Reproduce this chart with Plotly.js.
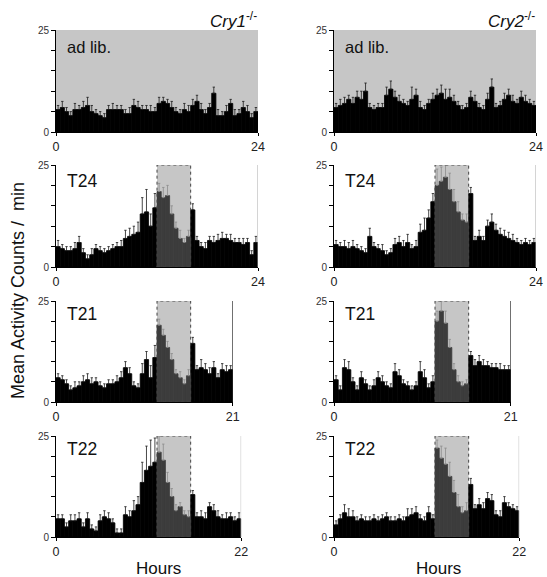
<!DOCTYPE html>
<html><head><meta charset="utf-8">
<script src="https://cdn.plot.ly/plotly-3.0.1.min.js"></script>
<style>html,body{margin:0;padding:0;background:#fff}#chart{width:547px;height:577px}</style>
</head><body><div id="chart"></div>
<script>
// ---- data (mean activity counts / min, 30-min bins) ----
const binHours = 0.5;
const darkStart = 12, darkEnd = 16;
const yLabelVals = [0, 25];
const yMinorVals = [5, 10, 15, 20];
const genotypeLabels = ['Cry1', 'Cry2'];
const conditionLabels = ['ad lib.', 'T24', 'T21', 'T22'];
const periods = [24, 24, 21, 22];

const cry1AdLib = [5.5,6,5,4,5.5,5.5,6,6.5, 5,4.5,4,3.5,5.5,5.5,5.5,5.5, 4.5,4.5,6.5,6,5.5,5.5,5,5,
                   7,7.5,7,6,5,4.5,5.5,5, 6.5,7.5,5.5,4.5,6,9.5,4,4, 5,7,4,4.5,6,5,3.5,5];
const cry1AdLibErr = [1,1.5,1,1,1.5,1,1.5,2, 1.5,1,1,1,1,1.5,1,1, 1,1.5,1.5,1.5,1,1,1.5,1,
                      1.5,1,1,1.5,1,1,1.5,1.5, 1.5,1.5,1.5,1,1,1.5,1.5,1, 1.5,1,1.5,1,1.5,1.5,1,1];
const cry2AdLib = [6,6.5,7,8,7,8.5,8,10, 6,5.5,6,6,9,10.5,8.5,7.5, 7,6.5,8,9,6,5.5,7,8,
                   9,9.5,8,8.5,7.5,6.5,5.5,6, 8.5,7.5,6,5.5,8,11,6,6.5, 8,9,7.5,7,8.5,7.5,7,6.5];
const cry2AdLibErr = [1,1.5,1.5,1,1.5,1.5,2,2, 1,1,1,1,2,2,1.5,1.5, 1,1,3,1.5,1.5,1,1,1.5,
                      1.5,2,2.5,2,1.5,1,1,1, 1.5,1.5,1,1,1.5,2,1,1, 1.5,1.5,1.5,1,1.5,1.5,1,1];

const cry1T24 = [5,4.5,4,4,4.5,6,3.5,2, 3,4.5,4,3.5,4,4.5,5,5, 7,7.5,8,8.5,13,13.5,10,14.5,
                 18.5,17,17.5,13,9.5,7,6,7.5, 14,6.5,5,4.5,6.5,6,6.5,7, 7,6.5,6,6,5.5,6,3,6];
const cry1T24Err = [1.5,1,1,1,1.5,1.5,1,1, 1.5,1,1,1,1,1,1,1.5, 2,2,2,2.5,4,5.5,3,3.5,
                    2,2.5,2.5,2,1.5,2,1,1.5, 1.5,1,1,1.5,1,1.5,1.5,1.5, 1,1.5,1,1,1.5,1,1,1.5];
const cry2T24 = [5.5,5,5,4.5,5,4.5,4,3.5, 7.5,5,4.5,4,3,3.5,5.5,6, 5,6,4.5,5,8.5,9,12,16,
                 20,21,22,19,16,13.5,11.5,11, 18,6.5,7.5,6.5,10,11,9,8, 7.5,7,6.5,6,5.5,6,5.5,6];
const cry2T24Err = [1,1,1.5,1.5,1.5,1,1,1, 2,1,1,1.5,1,1,1.5,1.5, 1.5,2,1,1.5,2,3,2,2,
                    4,3.5,3,4,3,2.5,1.5,2, 1.5,1,1.5,1,1.5,2,1.5,1.5, 1.5,1.5,1.5,1,1,1,1,1];

const cry1T21 = [6,5.5,4.5,3,3.5,4,5,5.5, 4.5,5,4,3.5,4.5,4.5,5,6, 8.5,7,4,3.5,7,10.5,6,11,
                 19,16.5,13.5,10.5,7,6,4.5,6.5, 14.5,8,8.5,8,7,8.5,6,8, 7.5,8];
const cry1T21Err = [1,1,1,1,1.5,1,1.5,1.5, 1.5,1,1,1,1,1,1.5,1.5, 1.5,1.5,1,1,2.5,2,3,3,
                    1.5,1.5,1.5,1.5,1,1.5,1,1.5, 1.5,1,2,1.5,1.5,1.5,1,1.5, 1.5,1];
const cry2T21 = [5.5,3,8.5,8,5,3,6,4.5, 3,4,6,5,4,3.5,7.5,6.5, 4.5,4,3,4,7.5,6,3.5,5,
                 20,22.5,19.5,13.5,8,5,4,4.5, 11.5,9,10,9,9,8.5,8.5,8, 8,8];
const cry2T21Err = [1,1,2,2,1,1,1.5,1, 1,1.5,1.5,1.5,1,1,2,1.5, 1,1,1,1,2.5,2,1,1.5,
                    2.5,2.5,3,2,1.5,1.5,1,1, 1,1.5,1.5,1.5,1,1,1,1.5, 1,1];

const cry1T22 = [4.5,4.5,2.5,4,4,4.5,2.5,4.5, 2,1.5,4,5,4.5,3.5,1,1, 5.5,5,6.5,8,13.5,16.5,17.5,18.5,
                 21,19,13.5,10,6.5,7.5,5.5,5, 10.5,5,5,4.5,7.5,6.5,5,4.5, 4.5,5,4,4.5];
const cry1T22Err = [1,1,1,1.5,1.5,1.5,1,1.5, 1,1,1.5,1.5,1.5,1,1,1, 2,1.5,2.5,2,5,6,6.5,6,
                    4,4,2.5,2,1.5,1,1,1.5, 1,1,1.5,1.5,1,1.5,1.5,1, 1.5,1,1,1.5];
const cry2T22 = [3,4.5,6,5,5,4,4.5,4, 4,4.5,4,4.5,5,4,4,4.5, 4,5,5.5,6,4.5,4,6,4.5,
                 22,19.5,18,15,11,7.5,6,6.5, 13,7,8,7,9.5,9,5.5,5, 8.5,7.5,7,6.5];
const cry2T22Err = [1,1,2,2,1.5,1,1,1, 1,1,1,1,1,1,1,1, 1,2,1.5,1.5,1,1,1.5,1,
                    2,3,4,3.5,3,3,1.5,2, 1.5,1,1.5,1.5,1.5,1.5,1,1.5, 1.5,1,1,1];

const seriesValues = [[cry1AdLib, cry2AdLib], [cry1T24, cry2T24], [cry1T21, cry2T21], [cry1T22, cry2T22]];
const seriesErrors = [[cry1AdLibErr, cry2AdLibErr], [cry1T24Err, cry2T24Err], [cry1T21Err, cry2T21Err], [cry1T22Err, cry2T22Err]];

// ---- layout geometry (pixels) ----
const W = 547, H = 577;
const colLeft = [56, 334];
const pxPerHour = 202 / 24;
const rowTop = [30, 165, 301, 436];
const rowBottom = [132, 267, 402, 537];
const px = v => v / W;
const py = v => 1 - v / H;
const FONT = 'Liberation Sans, Arial, sans-serif';
const rightLineColor = [null, '#a8a8a8', '#000000', '#bdbdbd'];

const traces = [];
const layout = {
  width: W, height: H, margin: {l: 0, r: 0, t: 0, b: 0},
  paper_bgcolor: '#fff', plot_bgcolor: 'rgba(0,0,0,0)',
  showlegend: false, bargap: 0, barmode: 'overlay',
  font: {family: FONT, color: '#111'},
  shapes: [], annotations: []
};

let idx = 0;
for (let r = 0; r < 4; r++) {
  for (let c = 0; c < 2; c++) {
    idx++;
    const sfx = idx === 1 ? '' : String(idx);
    const xa = 'x' + sfx, ya = 'y' + sfx;
    const period = periods[r];
    const vals = seriesValues[r][c];
    const errs = seriesErrors[r][c];
    const xs = vals.map((_, i) => i * binHours + binHours / 2);
    const isAdLib = r === 0;
    const inWin = xs.map(x => !isAdLib && x > darkStart && x < darkEnd);
    const groups = [[false, '#000000', '#1a1a1a'], [true, '#3c3c3c', '#8c8c8c']];
    groups.forEach(([flag, barCol, errCol]) => {
      const sel = xs.map((_, i) => i).filter(i => inWin[i] === flag);
      if (!sel.length) return;
      traces.push({
        type: 'bar', xaxis: xa, yaxis: ya,
        x: sel.map(i => xs[i]), y: sel.map(i => vals[i]),
        width: binHours,
        marker: {color: barCol, line: {width: 0.8, color: barCol}},
        error_y: {type: 'data', symmetric: false, array: sel.map(i => errs[i]), arrayminus: sel.map(() => 0),
                  color: errCol, thickness: 0.8, width: 1.2},
        hoverinfo: 'skip'
      });
    });
    const x0 = colLeft[c], x1 = colLeft[c] + period * pxPerHour;
    layout['xaxis' + sfx] = {
      domain: [px(x0), px(x1)], anchor: ya, range: [0, period], fixedrange: true,
      showgrid: false, zeroline: false, showline: true, linecolor: '#000', linewidth: 1,
      tickvals: [0, period], ticktext: ['0', String(period)], ticks: 'outside', ticklen: 3,
      tickcolor: '#000', tickfont: {size: 12.5, color: '#222', family: FONT}
    };
    layout['yaxis' + sfx] = {
      domain: [py(rowBottom[r]), py(rowTop[r])], anchor: xa, range: [0, 25], fixedrange: true,
      showgrid: false, zeroline: false, showline: true, linecolor: '#000', linewidth: 1,
      tickvals: yLabelVals, ticktext: yLabelVals.map(String), ticks: 'outside', ticklen: 4,
      tickcolor: '#000', tickfont: {size: 10, color: '#333', family: FONT},
      minor: {tickvals: yMinorVals, ticks: 'outside', ticklen: 4, tickcolor: '#000', showgrid: false}
    };
    if (isAdLib) {
      layout.shapes.push({type: 'rect', xref: xa, yref: ya, x0: 0, x1: period, y0: 0, y1: 25,
        fillcolor: '#c6c6c6', line: {width: 0}, layer: 'below'});
    } else {
      layout.shapes.push({type: 'rect', xref: xa, yref: ya, x0: darkStart, x1: darkEnd, y0: 0, y1: 25,
        fillcolor: '#c6c6c6', line: {width: 0}, layer: 'below'});
      layout.shapes.push({type: 'rect', xref: xa, yref: ya, x0: darkStart, x1: darkEnd, y0: 0, y1: 25,
        fillcolor: 'rgba(0,0,0,0)', line: {width: 1, color: '#444', dash: 'dot'}, layer: 'above'});
      layout.shapes.push({type: 'line', xref: xa, yref: ya, x0: period, x1: period, y0: 0, y1: 25,
        line: {width: 1, color: rightLineColor[r]}, layer: 'above'});
    }
    const labY = [47, 181, 314, 449][r];
    layout.annotations.push({xref: 'paper', yref: 'paper', x: px(x0 + 9), y: py(labY),
      xanchor: 'left', yanchor: 'middle', showarrow: false, text: conditionLabels[r],
      font: {size: r === 0 ? 16.5 : 17.5, color: '#111', family: FONT}});
  }
}

// genotype headers
[0, 1].forEach(c => {
  layout.annotations.push({xref: 'paper', yref: 'paper', x: px(colLeft[c] + 202 + 1), y: py(20),
    xanchor: 'right', yanchor: 'middle', showarrow: false,
    text: '<i>' + genotypeLabels[c] + '</i><sup>-/-</sup>',
    font: {size: 17, color: '#111', family: FONT}});
  layout.annotations.push({xref: 'paper', yref: 'paper', x: px([158, 438][c]), y: py(568),
    xanchor: 'center', yanchor: 'middle', showarrow: false, text: 'Hours',
    font: {size: 17, color: '#111', family: FONT}});
});
layout.annotations.push({xref: 'paper', yref: 'paper', x: px(18), y: py(291),
  xanchor: 'center', yanchor: 'middle', showarrow: false, textangle: -90,
  text: 'Mean Activity Counts /  min', font: {size: 18, color: '#111', family: FONT}});

Plotly.newPlot('chart', traces, layout, {staticPlot: true, displayModeBar: false});
</script></body></html>
